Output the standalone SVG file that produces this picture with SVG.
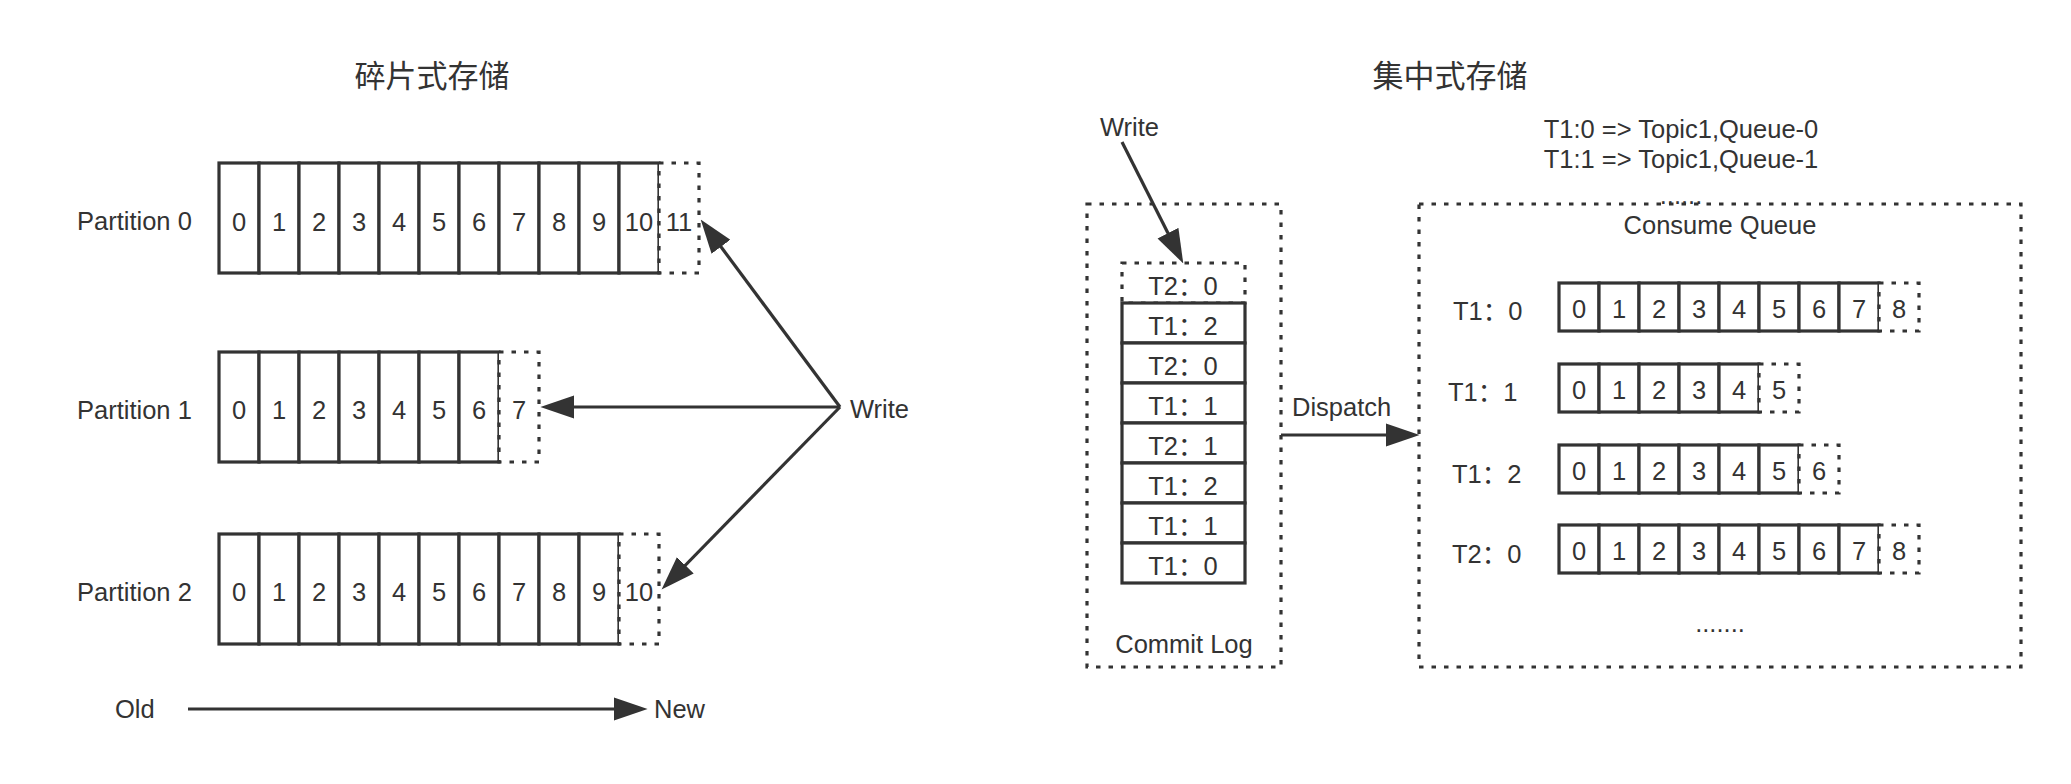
<svg xmlns="http://www.w3.org/2000/svg" width="2071" height="784" viewBox="0 0 2071 784">
<style>
text{font-family:"Liberation Sans","Noto Sans CJK SC",Arial,sans-serif;fill:#333;font-size:25.5px}
.t{font-size:31px}
.c{text-anchor:middle}
.cell{fill:#fff;stroke:#333;stroke-width:3.2}
.dcell{fill:#fff;stroke:#333;stroke-width:3.2;stroke-dasharray:4.5 8}
.box{fill:#fff;stroke:#333;stroke-width:3.2;stroke-dasharray:4.5 8}
.ln{fill:none;stroke:#333;stroke-width:3.2}
</style>
<defs>
<marker id="ah" markerUnits="userSpaceOnUse" markerWidth="34" markerHeight="24" viewBox="0 0 32 22" refX="22" refY="11" orient="auto">
<path d="M0,0 L32,11 L0,22 z" fill="#333"/>
</marker>
</defs>
<rect width="2071" height="784" fill="#fff"/>
<text class="t c" x="432" y="87">碎片式存储</text>
<text class="t c" x="1450" y="87">集中式存储</text>

<g id="partition0">
<text x="77" y="230">Partition 0</text>
<rect class="cell" x="219" y="163" width="40" height="110"/><rect class="cell" x="259" y="163" width="40" height="110"/><rect class="cell" x="299" y="163" width="40" height="110"/><rect class="cell" x="339" y="163" width="40" height="110"/><rect class="cell" x="379" y="163" width="40" height="110"/><rect class="cell" x="419" y="163" width="40" height="110"/><rect class="cell" x="459" y="163" width="40" height="110"/><rect class="cell" x="499" y="163" width="40" height="110"/><rect class="cell" x="539" y="163" width="40" height="110"/><rect class="cell" x="579" y="163" width="40" height="110"/><rect class="cell" x="619" y="163" width="40" height="110"/>
<rect class="dcell" x="659" y="163" width="40" height="110"/>
<text class="c" x="239" y="231">0</text><text class="c" x="279" y="231">1</text><text class="c" x="319" y="231">2</text><text class="c" x="359" y="231">3</text><text class="c" x="399" y="231">4</text><text class="c" x="439" y="231">5</text><text class="c" x="479" y="231">6</text><text class="c" x="519" y="231">7</text><text class="c" x="559" y="231">8</text><text class="c" x="599" y="231">9</text><text class="c" x="639" y="231">10</text><text class="c" x="679" y="231">11</text>
</g>

<g id="partition1">
<text x="77" y="419">Partition 1</text>
<rect class="cell" x="219" y="352" width="40" height="110"/><rect class="cell" x="259" y="352" width="40" height="110"/><rect class="cell" x="299" y="352" width="40" height="110"/><rect class="cell" x="339" y="352" width="40" height="110"/><rect class="cell" x="379" y="352" width="40" height="110"/><rect class="cell" x="419" y="352" width="40" height="110"/><rect class="cell" x="459" y="352" width="40" height="110"/>
<rect class="dcell" x="499" y="352" width="40" height="110"/>
<text class="c" x="239" y="419">0</text><text class="c" x="279" y="419">1</text><text class="c" x="319" y="419">2</text><text class="c" x="359" y="419">3</text><text class="c" x="399" y="419">4</text><text class="c" x="439" y="419">5</text><text class="c" x="479" y="419">6</text><text class="c" x="519" y="419">7</text>
</g>

<g id="partition2">
<text x="77" y="601">Partition 2</text>
<rect class="cell" x="219" y="534" width="40" height="110"/><rect class="cell" x="259" y="534" width="40" height="110"/><rect class="cell" x="299" y="534" width="40" height="110"/><rect class="cell" x="339" y="534" width="40" height="110"/><rect class="cell" x="379" y="534" width="40" height="110"/><rect class="cell" x="419" y="534" width="40" height="110"/><rect class="cell" x="459" y="534" width="40" height="110"/><rect class="cell" x="499" y="534" width="40" height="110"/><rect class="cell" x="539" y="534" width="40" height="110"/><rect class="cell" x="579" y="534" width="40" height="110"/>
<rect class="dcell" x="619" y="534" width="40" height="110"/>
<text class="c" x="239" y="601">0</text><text class="c" x="279" y="601">1</text><text class="c" x="319" y="601">2</text><text class="c" x="359" y="601">3</text><text class="c" x="399" y="601">4</text><text class="c" x="439" y="601">5</text><text class="c" x="479" y="601">6</text><text class="c" x="519" y="601">7</text><text class="c" x="559" y="601">8</text><text class="c" x="599" y="601">9</text><text class="c" x="639" y="601">10</text>
</g>

<g id="write-left"><text x="850" y="418">Write</text></g>
<g id="old"><text x="115" y="718">Old</text></g>
<g id="new"><text x="654" y="718">New</text></g>

<g id="write-right"><text x="1100" y="136">Write</text></g>
<g id="mapping">
<text class="c" x="1681" y="138">T1:0 =&gt; Topic1,Queue-0</text>
<text class="c" x="1681" y="168">T1:1 =&gt; Topic1,Queue-1</text>
<text class="c" x="1681" y="204">......</text>
</g>

<g id="commit-log">
<rect class="box" x="1087" y="204" width="194" height="463"/>
<rect class="dcell" x="1122" y="263" width="123" height="40"/>
<rect class="cell" x="1122" y="303" width="123" height="40"/><rect class="cell" x="1122" y="343" width="123" height="40"/><rect class="cell" x="1122" y="383" width="123" height="40"/><rect class="cell" x="1122" y="423" width="123" height="40"/><rect class="cell" x="1122" y="463" width="123" height="40"/><rect class="cell" x="1122" y="503" width="123" height="40"/><rect class="cell" x="1122" y="543" width="123" height="40"/>
<text class="c" x="1183" y="295">T2：0</text>
<text class="c" x="1183" y="335">T1：2</text>
<text class="c" x="1183" y="375">T2：0</text>
<text class="c" x="1183" y="415">T1：1</text>
<text class="c" x="1183" y="455">T2：1</text>
<text class="c" x="1183" y="495">T1：2</text>
<text class="c" x="1183" y="535">T1：1</text>
<text class="c" x="1183" y="575">T1：0</text>
<text class="c" x="1184" y="653">Commit Log</text>
</g>

<g id="dispatch-label"><text x="1292" y="416">Dispatch</text></g>

<g id="consume-queue">
<rect class="box" x="1419" y="204" width="602" height="463"/>
<text class="c" x="1720" y="234">Consume Queue</text>
<text x="1453" y="320">T1：0</text>
<text x="1448" y="401">T1：1</text>
<text x="1452" y="483">T1：2</text>
<text x="1452" y="563">T2：0</text>
<text class="c" x="1720" y="632">.......</text>
</g>

<g id="queue-t1-0">
<rect class="cell" x="1559" y="283" width="40" height="48"/><rect class="cell" x="1599" y="283" width="40" height="48"/><rect class="cell" x="1639" y="283" width="40" height="48"/><rect class="cell" x="1679" y="283" width="40" height="48"/><rect class="cell" x="1719" y="283" width="40" height="48"/><rect class="cell" x="1759" y="283" width="40" height="48"/><rect class="cell" x="1799" y="283" width="40" height="48"/><rect class="cell" x="1839" y="283" width="40" height="48"/>
<rect class="dcell" x="1879" y="283" width="40" height="48"/>
<text class="c" x="1579" y="318">0</text><text class="c" x="1619" y="318">1</text><text class="c" x="1659" y="318">2</text><text class="c" x="1699" y="318">3</text><text class="c" x="1739" y="318">4</text><text class="c" x="1779" y="318">5</text><text class="c" x="1819" y="318">6</text><text class="c" x="1859" y="318">7</text><text class="c" x="1899" y="318">8</text>
</g>

<g id="queue-t1-1">
<rect class="cell" x="1559" y="364" width="40" height="48"/><rect class="cell" x="1599" y="364" width="40" height="48"/><rect class="cell" x="1639" y="364" width="40" height="48"/><rect class="cell" x="1679" y="364" width="40" height="48"/><rect class="cell" x="1719" y="364" width="40" height="48"/>
<rect class="dcell" x="1759" y="364" width="40" height="48"/>
<text class="c" x="1579" y="399">0</text><text class="c" x="1619" y="399">1</text><text class="c" x="1659" y="399">2</text><text class="c" x="1699" y="399">3</text><text class="c" x="1739" y="399">4</text><text class="c" x="1779" y="399">5</text>
</g>

<g id="queue-t1-2">
<rect class="cell" x="1559" y="445" width="40" height="48"/><rect class="cell" x="1599" y="445" width="40" height="48"/><rect class="cell" x="1639" y="445" width="40" height="48"/><rect class="cell" x="1679" y="445" width="40" height="48"/><rect class="cell" x="1719" y="445" width="40" height="48"/><rect class="cell" x="1759" y="445" width="40" height="48"/>
<rect class="dcell" x="1799" y="445" width="40" height="48"/>
<text class="c" x="1579" y="480">0</text><text class="c" x="1619" y="480">1</text><text class="c" x="1659" y="480">2</text><text class="c" x="1699" y="480">3</text><text class="c" x="1739" y="480">4</text><text class="c" x="1779" y="480">5</text><text class="c" x="1819" y="480">6</text>
</g>

<g id="queue-t2-0">
<rect class="cell" x="1559" y="525" width="40" height="48"/><rect class="cell" x="1599" y="525" width="40" height="48"/><rect class="cell" x="1639" y="525" width="40" height="48"/><rect class="cell" x="1679" y="525" width="40" height="48"/><rect class="cell" x="1719" y="525" width="40" height="48"/><rect class="cell" x="1759" y="525" width="40" height="48"/><rect class="cell" x="1799" y="525" width="40" height="48"/><rect class="cell" x="1839" y="525" width="40" height="48"/>
<rect class="dcell" x="1879" y="525" width="40" height="48"/>
<text class="c" x="1579" y="560">0</text><text class="c" x="1619" y="560">1</text><text class="c" x="1659" y="560">2</text><text class="c" x="1699" y="560">3</text><text class="c" x="1739" y="560">4</text><text class="c" x="1779" y="560">5</text><text class="c" x="1819" y="560">6</text><text class="c" x="1859" y="560">7</text><text class="c" x="1899" y="560">8</text>
</g>

<g id="connectors">
<line class="ln" x1="840" y1="407" x2="707" y2="228" marker-end="url(#ah)"/>
<line class="ln" x1="840" y1="407" x2="551" y2="407" marker-end="url(#ah)"/>
<line class="ln" x1="840" y1="407" x2="669" y2="582" marker-end="url(#ah)"/>
<line class="ln" x1="188" y1="709" x2="637" y2="709" marker-end="url(#ah)"/>
<line class="ln" x1="1122" y1="142" x2="1178.5" y2="254" marker-end="url(#ah)"/>
<line class="ln" x1="1281" y1="435" x2="1409" y2="435" marker-end="url(#ah)"/>
</g>
</svg>
